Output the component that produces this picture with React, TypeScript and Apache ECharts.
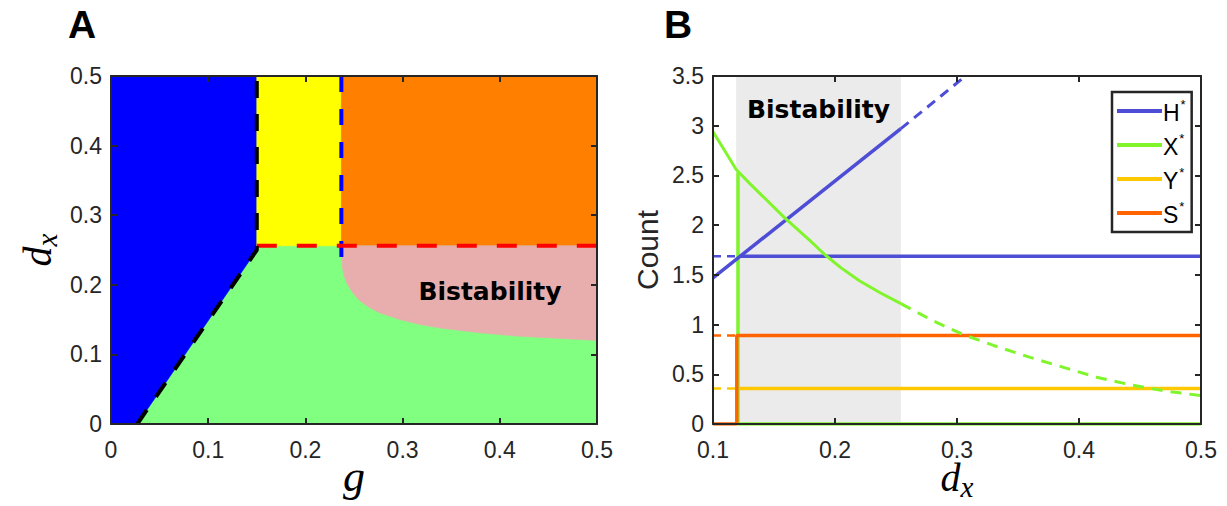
import { useEffect, useRef } from "react";
import * as echarts from "echarts";

// ---------- Panel A: phase diagram (g vs d_x) ----------
const plotFrameA = [[0, 0], [0.5, 0], [0.5, 0.5], [0, 0.5]];
const blueRegion = [[0, 0], [0.027, 0], [0.15, 0.25], [0.15, 0.5], [0, 0.5]];
const yellowRegion = [[0.15, 0.256], [0.237, 0.256], [0.237, 0.5], [0.15, 0.5]];
const orangeRegion = [[0.237, 0.256], [0.5, 0.256], [0.5, 0.5], [0.237, 0.5]];
const bistabilityBoundary = [
  [0.237, 0.256], [0.2375, 0.24], [0.238, 0.225], [0.24, 0.212], [0.243, 0.201],
  [0.249, 0.188], [0.256, 0.177], [0.265, 0.168], [0.276, 0.16], [0.297, 0.15],
  [0.318, 0.143], [0.338, 0.138], [0.379, 0.131], [0.42, 0.126], [0.462, 0.123], [0.5, 0.12],
];
const pinkRegion = [...bistabilityBoundary, [0.5, 0.256]];
const blackBoundary = [[0.027, 0], [0.15, 0.25], [0.15, 0.5]];
const blueBoundary = [[0.237, 0.5], [0.237, 0.235]];
const redBoundary = [[0.15, 0.256], [0.5, 0.256]];

// ---------- Panel B: counts vs d_x ----------
const bistableRange = [0.119, 0.254];
const hRiseSolid = [[0.1, 1.47], [0.254, 2.97]];
const hRiseDashed = [[0.254, 2.97], [0.307, 3.5]];
const hFlatDashed = [[0.1, 1.686], [0.12, 1.686]];
const hFlatSolid = [[0.12, 1.686], [0.5, 1.686]];
const xCurveSolid = [
  [0.1, 2.94], [0.11, 2.74], [0.119, 2.56], [0.13, 2.42], [0.14, 2.3], [0.159, 2.07],
  [0.18, 1.84], [0.192, 1.7], [0.205, 1.57], [0.22, 1.44], [0.237, 1.32], [0.254, 1.21],
];
const xCurveDashed = [
  [0.254, 1.21], [0.28, 1.04], [0.305, 0.9], [0.33, 0.79], [0.36, 0.67], [0.39, 0.56],
  [0.4145, 0.47], [0.44, 0.4], [0.469, 0.335], [0.5, 0.285],
];
const xDrop = [[0.1205, 2.53], [0.1205, 0], [0.5, 0]];
const yFlatDashed = [[0.1, 0.356], [0.12, 0.356]];
const yFlatSolid = [[0.12, 0.356], [0.5, 0.356]];
const sFlatDashed = [[0.1, 0.89], [0.12, 0.89]];
const sSolid = [[0.1, 0], [0.1195, 0], [0.1195, 0.89], [0.5, 0.89]];
const legendNames = ["H*", "X*", "Y*", "S*"];

const C = {
  blue: "#0000FF",
  yellow: "#FFFF00",
  orange: "#FF8000",
  green: "#80FF80",
  pink: "#E8AEAE",
  H: "#4D4DD6",
  X: "#80F52C",
  Y: "#FFC800",
  S: "#FF6400",
  axis: "#262626",
};

const regionsA = [
  { color: C.green, points: plotFrameA },
  { color: C.blue, points: blueRegion },
  { color: C.yellow, points: yellowRegion },
  { color: C.orange, points: orangeRegion },
  { color: C.pink, points: pinkRegion },
];

const tickFont = "'Liberation Sans', Arial, sans-serif";
const serif = "'Liberation Serif', 'Times New Roman', serif";
const boldFont = "'DejaVu Sans', sans-serif";

function makeAxes(gridIndex: number, min: number, max: number, interval: number, kind: "x" | "y") {
  const common = {
    gridIndex,
    type: "value",
    min,
    max,
    interval,
    z: 10,
    nameMoveOverlap: false,
    splitLine: { show: false },
    axisLine: { show: true, onZero: false, lineStyle: { color: C.axis, width: 2 } },
    axisTick: { show: true, inside: true, length: 6, lineStyle: { color: C.axis, width: 2 } },
  };
  const main = {
    ...common,
    position: kind === "x" ? "bottom" : "left",
    axisLabel: {
      show: true,
      color: C.axis,
      fontSize: 23,
      lineHeight: 23,
      fontFamily: tickFont,
      margin: kind === "x" ? 14 : 9,
    },
  };
  const mirror = {
    ...common,
    position: kind === "x" ? "top" : "right",
    axisLabel: { show: false },
  };
  return [main, mirror];
}

function line(name: string, data: number[][], color: string, width: number, dashed: boolean | number[], z: number) {
  return {
    type: "line",
    name,
    xAxisIndex: 2,
    yAxisIndex: 2,
    data,
    symbol: "none",
    silent: true,
    z,
    lineStyle: { color, width, type: dashed === false ? "solid" : dashed === true ? [10, 7] : dashed, cap: "butt" },
    itemStyle: { color },
  };
}

function lineA(data: number[][], color: string, dash: number[]) {
  return {
    type: "line",
    xAxisIndex: 0,
    yAxisIndex: 0,
    data,
    symbol: "none",
    silent: true,
    z: 5,
    lineStyle: { color, width: 4, type: dash, cap: "butt" },
  };
}

const [xA, xAtop] = makeAxes(0, 0, 0.5, 0.1, "x");
const [yA, yAright] = makeAxes(0, 0, 0.5, 0.1, "y");
const [xB, xBtop] = makeAxes(1, 0.1, 0.5, 0.1, "x");
const [yB, yBright] = makeAxes(1, 0, 3.5, 0.5, "y");

const dxName = "{d|d}{x|x}";
const dxRich = {
  d: { fontSize: 40, lineHeight: 32, fontFamily: serif, fontStyle: "italic", color: "#000", verticalAlign: "bottom", padding: [0, 0, 4, 0] },
  x: { fontSize: 29, lineHeight: 16, fontFamily: serif, fontStyle: "italic", color: "#000", verticalAlign: "bottom" },
};

const option = {
  animation: false,
  backgroundColor: "#fff",
  grid: [
    { left: 111, top: 76, width: 486, height: 348, outerBoundsMode: "none", containLabel: false },
    { left: 713, top: 76, width: 488, height: 348, outerBoundsMode: "none", containLabel: false },
  ],
  xAxis: [
    { ...xA, name: "g", nameLocation: "middle", nameGap: 30, nameTextStyle: { fontSize: 44, fontFamily: serif, fontStyle: "italic", color: "#000" } },
    xAtop,
    { ...xB, name: dxName, nameLocation: "middle", nameGap: 45, nameTextStyle: { rich: dxRich } },
    xBtop,
  ],
  yAxis: [
    { ...yA, name: dxName, nameLocation: "middle", nameRotate: 90, nameGap: 50, nameTextStyle: { rich: dxRich } },
    yAright,
    { ...yB, name: "Count", nameLocation: "middle", nameRotate: 90, nameGap: 51, nameTextStyle: { fontSize: 30, fontFamily: tickFont, color: C.axis } },
    yBright,
  ],
  legend: {
    data: legendNames,
    orient: "vertical",
    left: 1112,
    top: 92,
    padding: [6, 6, 6, 5],
    icon: "rect",
    itemWidth: 45,
    itemHeight: 4,
    itemGap: 8,
    borderColor: C.axis,
    borderWidth: 2.5,
    backgroundColor: "#fff",
    z: 20,
    formatter: (n: string) => `{b|${n.replace("*", "")}}{s|*}`,
    textStyle: {
      color: "#000",
      rich: {
        b: { fontSize: 23, fontFamily: tickFont, color: "#000", verticalAlign: "bottom", padding: [0, 0, 0, -4] },
        s: { fontSize: 13, fontFamily: tickFont, color: "#000", verticalAlign: "bottom", padding: [0, 0, 13, 1] },
      },
    },
  },
  graphic: [
    { type: "text", x: 82, y: 24, style: { text: "A", fill: "#000", font: `bold 39px ${tickFont}`, align: "center", verticalAlign: "middle", textAlign: "center", textVerticalAlign: "middle" } },
    { type: "text", x: 678, y: 24, style: { text: "B", fill: "#000", font: `bold 39px ${tickFont}`, align: "center", verticalAlign: "middle", textAlign: "center", textVerticalAlign: "middle" } },
    { type: "text", x: 490, y: 291, z: 30, style: { text: "Bistability", fill: "#000", font: `bold 25px ${boldFont}`, align: "center", verticalAlign: "middle", textAlign: "center", textVerticalAlign: "middle" } },
  ],
  series: [
    {
      type: "custom",
      xAxisIndex: 0,
      yAxisIndex: 0,
      silent: true,
      z: 1,
      data: regionsA.map((r, i) => [r.points[0][0], r.points[0][1], i]),
      renderItem: (params: any, api: any) => {
        const r = regionsA[params.dataIndex];
        return {
          type: "polygon",
          shape: { points: r.points.map((p) => api.coord(p)) },
          style: { fill: r.color, stroke: r.color, lineWidth: 0.6 },
        };
      },
    },
    lineA(blueBoundary, C.blue, [16, 17]),
    lineA(redBoundary, "#FF0000", [20, 20]),
    lineA(blackBoundary, "#000", [17, 16]),
    // Panel B
    {
      type: "line",
      name: "bistable",
      xAxisIndex: 2,
      yAxisIndex: 2,
      data: [],
      z: 1,
      silent: true,
      markArea: {
        silent: true,
        itemStyle: { color: "#EBEBEB" },
        label: {
          show: true,
          position: "insideTop",
          distance: 21,
          formatter: "Bistability",
          color: "#000",
          fontSize: 25,
          fontWeight: "bold",
          fontFamily: boldFont,
        },
        data: [[{ xAxis: bistableRange[0] }, { xAxis: bistableRange[1] }]],
      },
    },
    line("H*", hFlatSolid, C.H, 3.5, false, 3),
    line("H* dashed", hFlatDashed, C.H, 2.5, [8, 6], 3),
    line("Y*", yFlatSolid, C.Y, 3.5, false, 3),
    line("Y* dashed", yFlatDashed, C.Y, 2.5, [8, 6], 3),
    line("X* drop", xDrop, C.X, 3.5, false, 4),
    line("S*", sSolid, C.S, 3.5, false, 5),
    line("S* dashed", sFlatDashed, C.S, 2.5, [8, 6], 5),
    line("H* rise", hRiseSolid, C.H, 3.5, false, 6),
    line("H* rise dashed", hRiseDashed, C.H, 3, [10, 7], 6),
    line("X*", xCurveSolid, C.X, 3, false, 7),
    line("X* dashed", xCurveDashed, C.X, 3, [11, 8], 7),
  ],
};

export default function App() {
  const ref = useRef<HTMLDivElement>(null);
  useEffect(() => {
    document.body.style.margin = "0";
    const chart = echarts.init(ref.current!, null, { renderer: "svg" });
    chart.setOption(option as any);
    return () => chart.dispose();
  }, []);
  return (
    <div
      ref={ref}
      style={{ width: 1227, height: 506, position: "absolute", left: 0, top: 0, background: "#fff" }}
    />
  );
}
